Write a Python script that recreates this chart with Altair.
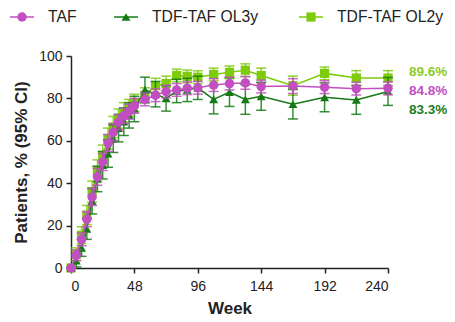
import altair as alt
import pandas as pd

weeks = [0, 4, 8, 12, 16, 20, 24, 28, 32, 36, 40, 44, 48, 56, 64, 72, 80, 88, 96,
         108, 120, 132, 144, 168, 192, 216, 240]

series_names = ["TAF", "TDF-TAF OL3y", "TDF-TAF OL2y"]

taf = [0, 6, 13.5, 23, 33.5, 43, 50, 59, 64, 68.8, 71.8, 73.8, 76.5, 79.5, 81.5,
       83.2, 84, 84.8, 85, 86.3, 87, 87.3, 85.6, 85.8, 85.3, 84.6, 84.8]
taf_ci = [0, 2.5, 3, 3.5, 4, 4, 4, 4, 4, 3.5, 3.5, 3.5, 3.5, 3, 3, 3, 3, 3, 3,
          3, 3, 3, 3, 3.5, 3, 3, 3]

ol3 = [0, 3.5, 9.5, 18.5, 31.5, 42, 48.5, 54, 61, 66, 69, 72, 75, 84, 82, 80,
       83.5, 84, 85, 79.5, 83, 79.5, 81, 77.3, 80.5, 79.3, 83.3]
ol3_ci = [0, 3, 4, 5, 6, 6, 6.5, 6.5, 6.5, 6.5, 6.5, 6, 6, 6, 6, 6, 5.5, 5.5, 5.5,
          6.8, 6.8, 7, 6.6, 7, 6.8, 6.8, 6.6]

ol2 = [0, 6.5, 15.5, 25, 36, 46, 53, 61, 66.5, 70.5, 73.5, 75.5, 78, 81.5, 86, 87,
       90.8, 90.4, 90, 91.3, 92.3, 93.3, 90.8, 86, 91.8, 89.6, 89.6]
ol2_ci = [0, 3, 4, 4.5, 5, 5, 5, 5, 5, 4.5, 4.5, 4, 4, 3.5, 3.5, 3.5, 3, 3, 3,
          3, 3, 3, 3.5, 4.5, 3, 3.5, 3.5]

end_labels = ["84.8%", "83.3%", "89.6%"]

colors = {"TAF": "#C14FC1", "TDF-TAF OL3y": "#157A15", "TDF-TAF OL2y": "#7DCB0A"}
text_colors = {"TAF": "#C14FC1", "TDF-TAF OL3y": "#1E7B1E", "TDF-TAF OL2y": "#8BCB2A"}
shapes = {"TAF": "circle", "TDF-TAF OL3y": "triangle-up", "TDF-TAF OL2y": "square"}
sizes = {"TAF": 90, "TDF-TAF OL3y": 80, "TDF-TAF OL2y": 85}
label_dy = {"TAF": 3, "TDF-TAF OL3y": 19, "TDF-TAF OL2y": -6}
legend_x = {"TAF": -49, "TDF-TAF OL3y": 55, "TDF-TAF OL2y": 240}

rows = []
for name, vals, ci, lab in zip(series_names, [taf, ol3, ol2], [taf_ci, ol3_ci, ol2_ci], end_labels):
    for i, (w, v, c) in enumerate(zip(weeks, vals, ci)):
        rows.append({"series": name, "week": w, "pct": v, "lo": max(v - c, 0),
                     "hi": min(v + c, 100), "label": lab if i == len(weeks) - 1 else ""})
df = pd.DataFrame(rows)

FONT = "Liberation Sans"
xs = alt.Scale(domain=[0, 240], nice=False)
ys = alt.Scale(domain=[0, 100], nice=False)

X = alt.X("week:Q", scale=xs,
          axis=alt.Axis(values=[0, 48, 96, 144, 192, 240], title="Week", labelPadding=6,
                        titlePadding=7))
Y = alt.Y("pct:Q", scale=ys,
          axis=alt.Axis(values=[0, 20, 40, 60, 80, 100], title="Patients, % (95% CI)",
                        titlePadding=8, labelPadding=4))

base = alt.Chart(df)
layers = []
for name in ["TDF-TAF OL2y", "TDF-TAF OL3y", "TAF"]:
    col = colors[name]
    b = base.transform_filter(alt.datum.series == name)
    layers.append(b.mark_rule(color=col, strokeWidth=1.5, opacity=0.85).encode(
        x=X, y=alt.Y("lo:Q", scale=ys), y2="hi:Q"))
    layers.append(b.mark_tick(color=col, orient="horizontal", size=10, thickness=1.5, opacity=0.85).encode(
        x=X, y=alt.Y("lo:Q", scale=ys)))
    layers.append(b.mark_tick(color=col, orient="horizontal", size=10, thickness=1.5, opacity=0.85).encode(
        x=X, y=alt.Y("hi:Q", scale=ys)))
    layers.append(b.mark_line(color=col, strokeWidth=1.5).encode(x=X, y=Y))
    layers.append(b.mark_point(color=col, shape=shapes[name], filled=True, opacity=1,
                               size=sizes[name]).encode(x=X, y=Y))

for name in series_names:
    b = base.transform_filter((alt.datum.series == name) & (alt.datum.week == 240))
    layers.append(b.mark_text(color=text_colors[name], font=FONT, fontSize=13.5, fontWeight="bold",
                              align="left", baseline="middle", dx=21, dy=label_dy[name]).encode(
        x=X, y=Y, text="label:N"))

# manual legend
leg = pd.DataFrame({"series": series_names})
for name in series_names:
    col = colors[name]
    lx = legend_x[name]
    lb = alt.Chart(leg).transform_filter(alt.datum.series == name)
    layers.append(lb.mark_rule(color=col, strokeWidth=1.5).encode(
        x=alt.value(lx - 12), x2=alt.value(lx + 12), y=alt.value(-39)))
    layers.append(lb.mark_point(color=col, shape=shapes[name], filled=True, opacity=1,
                                size=sizes[name]).encode(x=alt.value(lx), y=alt.value(-39)))
    layers.append(lb.mark_text(color="#222", font=FONT, fontSize=15.7, align="left",
                               baseline="middle").encode(
        x=alt.value(lx + 26), y=alt.value(-39), text="series:N"))

chart = alt.layer(*layers).properties(
    width=317, height=212,
    autosize=alt.AutoSizeParams(type="none"),
    padding={"left": 63, "top": 48, "right": 59, "bottom": 52},
).configure_view(stroke=None).configure_axis(
    grid=False, domainColor="#222", domainWidth=1.5, tickColor="#222", tickWidth=1.5,
    tickSize=5, labelFont=FONT, labelFontSize=14, labelColor="#222", titleFont=FONT,
    titleFontSize=17, titleFontWeight="bold", titleColor="#222"
)

chart.save("out.html", embed_options={"renderer": "svg", "actions": False})
